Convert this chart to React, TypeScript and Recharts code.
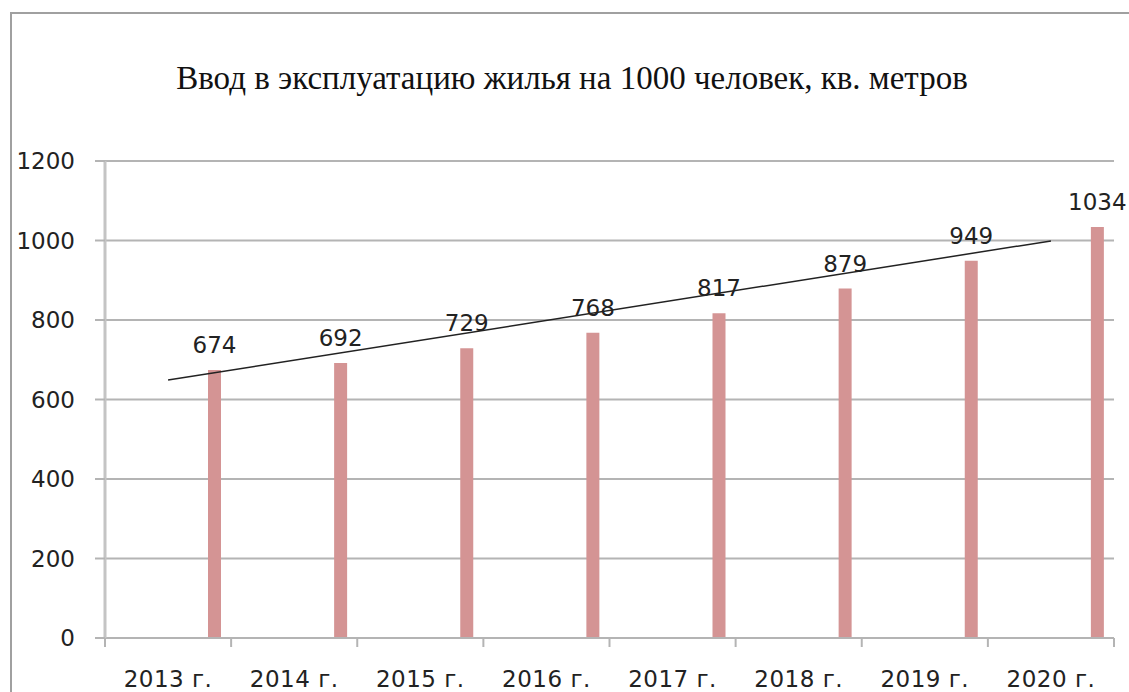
import React from "react";
import {
  ComposedChart,
  Bar,
  Line,
  XAxis,
  YAxis,
  CartesianGrid,
  LabelList,
} from "recharts";

// categories and values
const years = [
  "2013 г.",
  "2014 г.",
  "2015 г.",
  "2016 г.",
  "2017 г.",
  "2018 г.",
  "2019 г.",
  "2020 г.",
];
const housing = [674, 692, 729, 768, 817, 879, 949, 1034];
// linear trendline: only its two ends, joined by a straight segment
const trendEnds = [649, null, null, null, null, null, null, 999];
const yTicks = [0, 200, 400, 600, 800, 1000, 1200];

const TITLE = "Ввод в эксплуатацию жилья на 1000 человек, кв. метров";

const data = years.map((year, i) => ({
  year,
  housing: housing[i],
  trend: trendEnds[i],
}));

const AXIS_FONT = "'DejaVu Sans', Verdana, sans-serif";
const GRID = "#b4b4b4";
const TICK_SIZE = 9;
const TICK_MARGIN = 23;

// x ticks sit on the boundaries between categories, labels in the middle
function YearTick(props: any) {
  const { x, y, payload, index } = props;
  const half = payload?.offset ?? 63;
  const top = y - TICK_MARGIN - TICK_SIZE;
  return (
    <g>
      {index === 0 && (
        <line x1={x - half} x2={x - half} y1={top} y2={top + TICK_SIZE} stroke={GRID} strokeWidth={2} />
      )}
      <line x1={x + half} x2={x + half} y1={top} y2={top + TICK_SIZE} stroke={GRID} strokeWidth={2} />
      <text
        x={x}
        y={y}
        dy="0.72em"
        textAnchor="middle"
        fill="#222"
        fontFamily={AXIS_FONT}
        fontSize={23}
        letterSpacing={0.5}
      >
        {payload.value}
      </text>
    </g>
  );
}

export default function App() {
  return (
    <div
      style={{
        position: "absolute",
        left: 0,
        top: 0,
        width: 1129,
        height: 692,
        background: "#fff",
        overflow: "hidden",
      }}
    >
      <div
        style={{
          position: "absolute",
          left: 10,
          top: 12,
          width: 1300,
          height: 900,
          borderTop: "2px solid #a0a0a0",
          borderLeft: "2px solid #a0a0a0",
        }}
      />
      <div
        style={{
          position: "absolute",
          left: 572,
          top: 62,
          transform: "translateX(-50%)",
          whiteSpace: "nowrap",
          fontFamily: "'Liberation Serif', 'Times New Roman', serif",
          fontSize: 33,
          lineHeight: "32px",
          color: "#111",
        }}
      >
        {TITLE}
      </div>
      <ComposedChart
        width={1129}
        height={692}
        data={data}
        margin={{ top: 161, right: 15, bottom: 14, left: 0 }}
        barSize={13}
        barGap={79}
        style={{ position: "absolute", left: 0, top: 0 }}
      >
        <CartesianGrid vertical={false} stroke={GRID} strokeWidth={2} />
        <XAxis
          dataKey="year"
          height={40}
          axisLine={{ stroke: GRID, strokeWidth: 2 }}
          tickLine={false}
          tickSize={TICK_SIZE}
          tickMargin={TICK_MARGIN}
          interval={0}
          tick={<YearTick />}
        />
        <YAxis
          width={105}
          domain={[0, 1200]}
          ticks={yTicks}
          interval={0}
          axisLine={{ stroke: "#c4c4c4", strokeWidth: 3 }}
          tickLine={{ stroke: GRID, strokeWidth: 2 }}
          tickSize={10}
          tickMargin={20}
          tick={{ fill: "#222", fontFamily: AXIS_FONT, fontSize: 23 }}
        />
        {/* empty first series keeps the real bars on the right of each slot */}
        <Bar dataKey="spacer" fill="none" isAnimationActive={false} />
        <Bar dataKey="housing" fill="#d49494" isAnimationActive={false}>
          <LabelList
            dataKey="housing"
            position="top"
            offset={17}
            fill="#222"
            fontFamily={AXIS_FONT}
            fontSize={23}
          />
        </Bar>
        <Line
          dataKey="trend"
          stroke="#222"
          strokeWidth={1.5}
          dot={false}
          activeDot={false}
          connectNulls
          isAnimationActive={false}
        />
      </ComposedChart>
    </div>
  );
}
